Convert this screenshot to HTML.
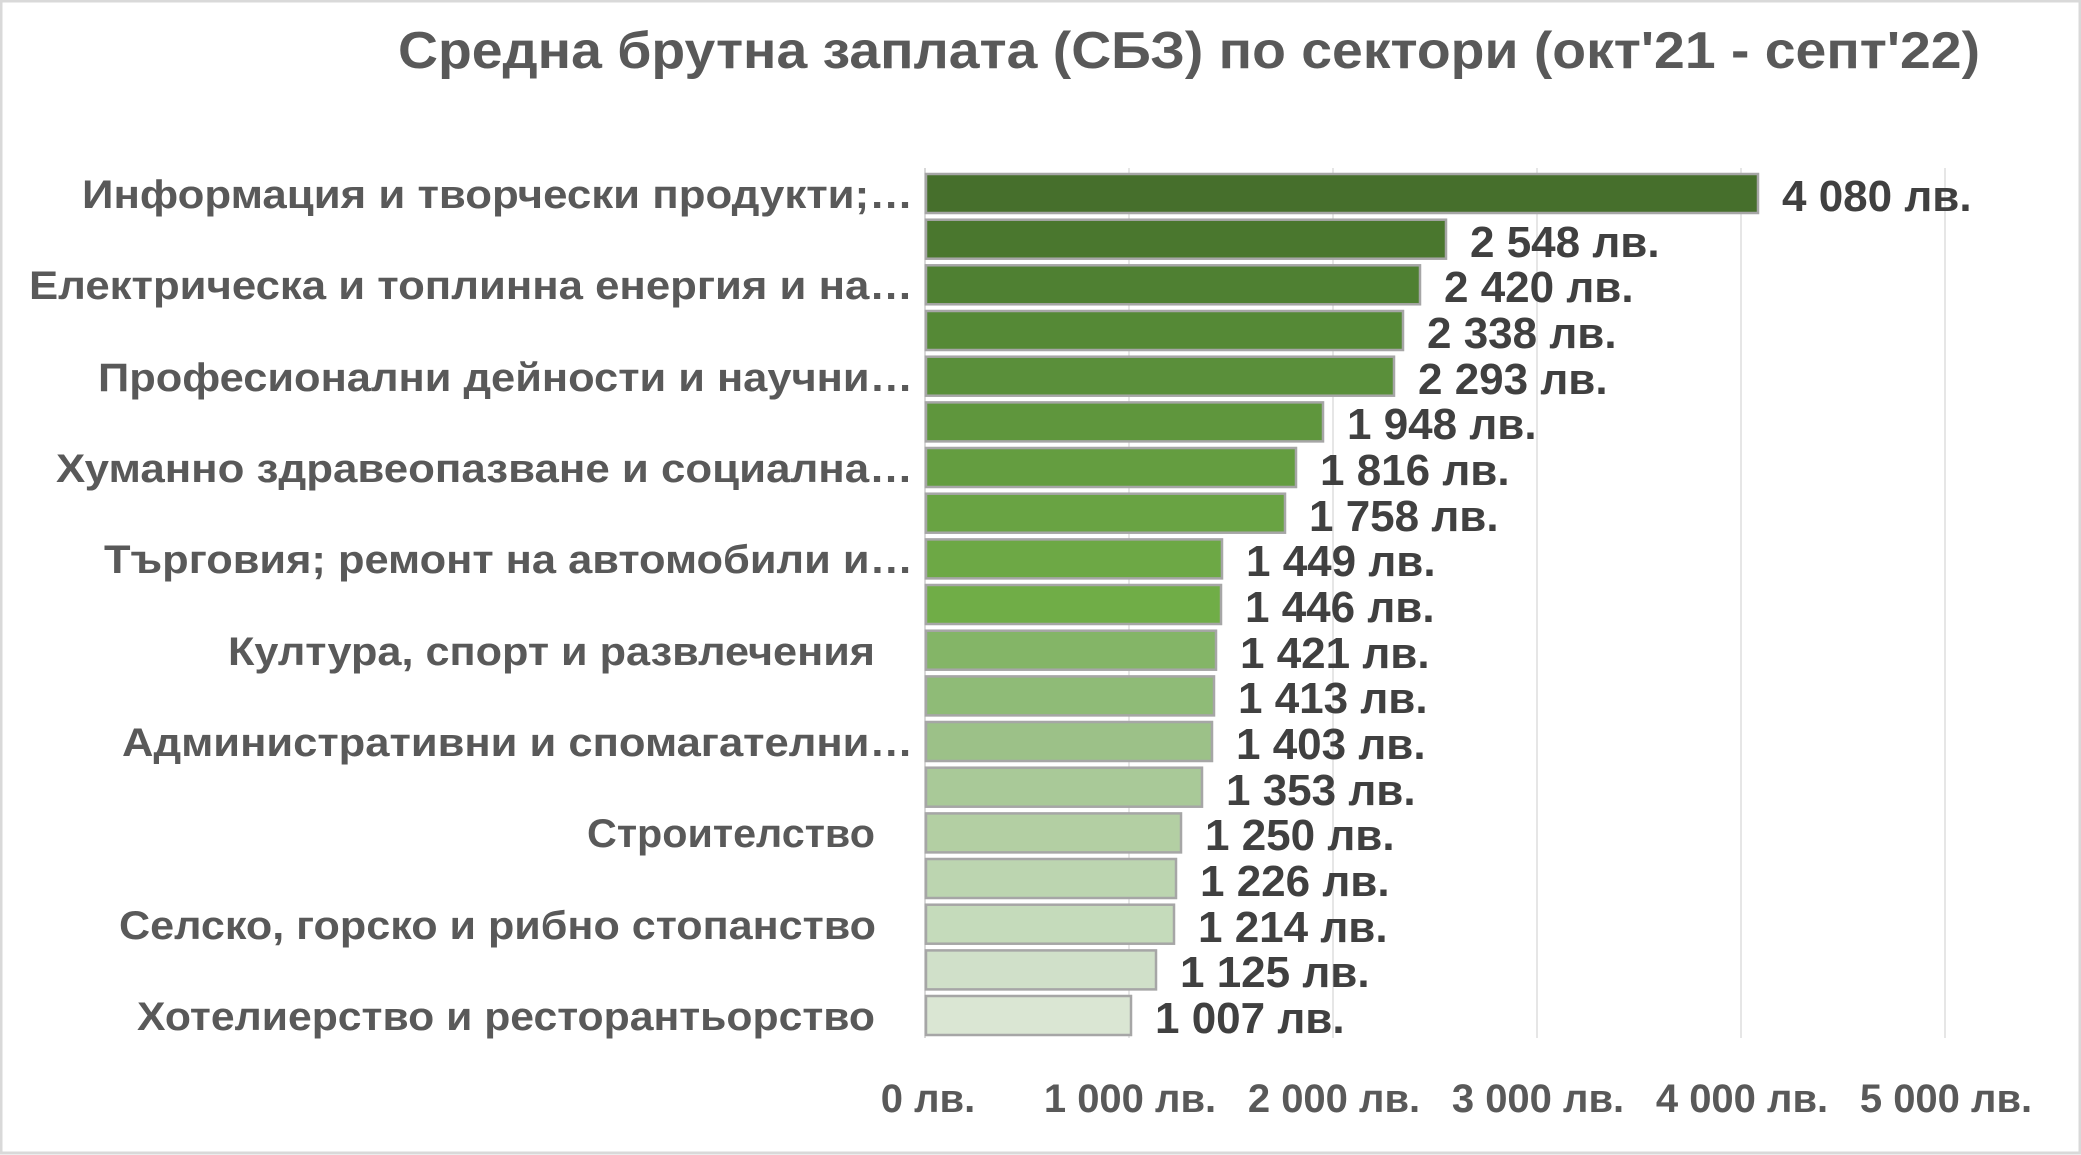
<!DOCTYPE html>
<html><head><meta charset="utf-8"><style>
html,body{margin:0;padding:0;background:#fff;}
svg{display:block;}
text{font-family:"Liberation Sans","DejaVu Sans",sans-serif;font-weight:bold;}
</style></head><body>
<svg width="2081" height="1155" viewBox="0 0 2081 1155" xmlns="http://www.w3.org/2000/svg">
<rect x="1" y="1" width="2079" height="1152" fill="#fff" stroke="#d9d9d9" stroke-width="3"/>
<text x="398" y="68" font-size="52" fill="#595959" textLength="1582" lengthAdjust="spacingAndGlyphs">Средна брутна заплата (СБЗ) по сектори (окт'21 - септ'22)</text>
<g stroke="#e6e6e6" stroke-width="2">
<line x1="1129" y1="168" x2="1129" y2="1038"/>
<line x1="1333" y1="168" x2="1333" y2="1038"/>
<line x1="1537" y1="168" x2="1537" y2="1038"/>
<line x1="1741" y1="168" x2="1741" y2="1038"/>
<line x1="1945" y1="168" x2="1945" y2="1038"/>
<line x1="925" y1="168" x2="925" y2="1038" stroke="#d9d9d9"/>
</g>
<g stroke="#a6a6a6" stroke-width="2.5">
<rect x="926" y="174" width="832" height="39" fill="#466f2c"/>
<rect x="926" y="219.7" width="520" height="39" fill="#4a772e"/>
<rect x="926" y="265.3" width="494" height="39" fill="#4f8032"/>
<rect x="926" y="311" width="477" height="39" fill="#558936"/>
<rect x="926" y="356.7" width="468" height="39" fill="#5a8f3a"/>
<rect x="926" y="402.4" width="397" height="39" fill="#5f963d"/>
<rect x="926" y="448" width="370" height="39" fill="#649d40"/>
<rect x="926" y="493.7" width="359" height="39" fill="#69a343"/>
<rect x="926" y="539.4" width="296" height="39" fill="#6da845"/>
<rect x="926" y="585" width="295" height="39" fill="#70ad47"/>
<rect x="926" y="630.7" width="290" height="39" fill="#84b567"/>
<rect x="926" y="676.4" width="288" height="39" fill="#8fbb77"/>
<rect x="926" y="722" width="286" height="39" fill="#9cc188"/>
<rect x="926" y="767.7" width="276" height="39" fill="#a9c998"/>
<rect x="926" y="813.4" width="255" height="39" fill="#b3cfa3"/>
<rect x="926" y="859" width="250" height="39" fill="#bcd5b0"/>
<rect x="926" y="904.7" width="248" height="39" fill="#c5dbbb"/>
<rect x="926" y="950.4" width="230" height="39" fill="#d0e0c9"/>
<rect x="926" y="996" width="205" height="39" fill="#dae6d3"/>
</g>
<g font-size="44" fill="#404040">
<text x="1782" y="211">4 080 лв.</text>
<text x="1470" y="257">2 548 лв.</text>
<text x="1444" y="302">2 420 лв.</text>
<text x="1427" y="348">2 338 лв.</text>
<text x="1418" y="394">2 293 лв.</text>
<text x="1347" y="439">1 948 лв.</text>
<text x="1320" y="485">1 816 лв.</text>
<text x="1309" y="531">1 758 лв.</text>
<text x="1246" y="576">1 449 лв.</text>
<text x="1245" y="622">1 446 лв.</text>
<text x="1240" y="668">1 421 лв.</text>
<text x="1238" y="713">1 413 лв.</text>
<text x="1236" y="759">1 403 лв.</text>
<text x="1226" y="805">1 353 лв.</text>
<text x="1205" y="850">1 250 лв.</text>
<text x="1200" y="896">1 226 лв.</text>
<text x="1198" y="942">1 214 лв.</text>
<text x="1180" y="987">1 125 лв.</text>
<text x="1155" y="1033">1 007 лв.</text>
</g>
<g font-size="40" fill="#595959">
<text x="82" y="208" textLength="831" lengthAdjust="spacingAndGlyphs">Информация и творчески продукти;…</text>
<text x="29" y="299" textLength="884" lengthAdjust="spacingAndGlyphs">Електрическа и топлинна енергия и на…</text>
<text x="98" y="391" textLength="815" lengthAdjust="spacingAndGlyphs">Професионални дейности и научни…</text>
<text x="56" y="482" textLength="857" lengthAdjust="spacingAndGlyphs">Хуманно здравеопазване и социална…</text>
<text x="104" y="573" textLength="809" lengthAdjust="spacingAndGlyphs">Търговия; ремонт на автомобили и…</text>
<text x="228" y="665" textLength="647" lengthAdjust="spacingAndGlyphs">Култура, спорт и развлечения</text>
<text x="122" y="756" textLength="791" lengthAdjust="spacingAndGlyphs">Административни и спомагателни…</text>
<text x="587" y="847" textLength="288" lengthAdjust="spacingAndGlyphs">Строителство</text>
<text x="119" y="939" textLength="757" lengthAdjust="spacingAndGlyphs">Селско, горско и рибно стопанство</text>
<text x="137" y="1030" textLength="738" lengthAdjust="spacingAndGlyphs">Хотелиерство и ресторантьорство</text>
</g>
<g font-size="40" fill="#595959" text-anchor="middle">
<text x="928" y="1112">0 лв.</text>
<text x="1130" y="1112">1 000 лв.</text>
<text x="1334" y="1112">2 000 лв.</text>
<text x="1538" y="1112">3 000 лв.</text>
<text x="1742" y="1112">4 000 лв.</text>
<text x="1946" y="1112">5 000 лв.</text>
</g>
</svg>
</body></html>
